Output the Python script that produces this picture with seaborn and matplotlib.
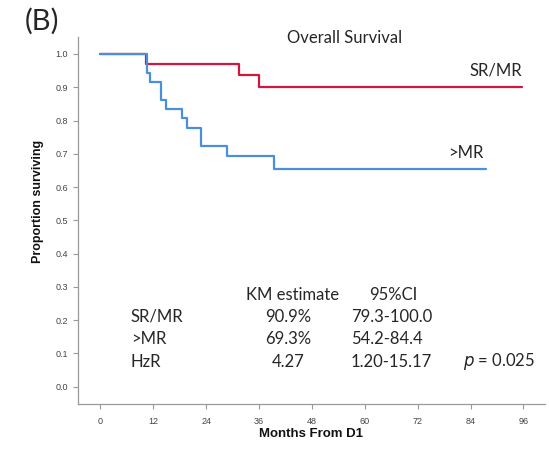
import pandas as pd
import seaborn as sns
import matplotlib.pyplot as plt

# Kaplan-Meier step points
sr_months = [0, 10.3, 31.5, 36.1, 95.6]
sr_surv = [1.0, 0.970, 0.937, 0.900, 0.900]
mr_months = [0, 10.5, 11.3, 13.7, 14.9, 18.5, 19.6, 22.8, 28.7, 39.4, 87.6]
mr_surv = [1.0, 0.942, 0.917, 0.862, 0.834, 0.807, 0.777, 0.723, 0.693, 0.653, 0.653]

groups = ['SR/MR', '>MR']
colors = ['#D2163F', '#4A8FDF']
x_ticks = [0, 12, 24, 36, 48, 60, 72, 84, 96]
y_ticks = [0.0, 0.1, 0.2, 0.3, 0.4, 0.5, 0.6, 0.7, 0.8, 0.9, 1.0]

table_header = ['KM estimate', '95%CI']
table_rows = ['SR/MR', '>MR', 'HzR']
km_est = ['90.9%', '69.3%', '4.27']
ci = ['79.3-100.0', '54.2-84.4', '1.20-15.17']
p_text = '$p$ = 0.025'

df = pd.concat([
    pd.DataFrame({'Months': sr_months, 'Surv': sr_surv, 'Group': groups[0]}),
    pd.DataFrame({'Months': mr_months, 'Surv': mr_surv, 'Group': groups[1]}),
])

sns.set_style('white')
plt.rcParams['font.family'] = ['Liberation Sans', 'DejaVu Sans']

W, H = 549, 461
fig = plt.figure(figsize=(W / 100, H / 100), dpi=100)
ax = fig.add_axes([78 / W, 1 - 404 / H, (545 - 78) / W, (404 - 37) / H])

sns.lineplot(data=df, x='Months', y='Surv', hue='Group', palette=colors,
             estimator=None, sort=False, drawstyle='steps-post',
             linewidth=1.6, legend=False, ax=ax)

ax.set_xlim(-5.06, 100.9)
ax.set_ylim(-0.052, 1.051)
ax.set_xticks(x_ticks)
ax.set_yticks(y_ticks)
ax.set_yticklabels([f'{v:.1f}' for v in y_ticks])
ax.set_xlabel('')
ax.set_ylabel('')
ax.tick_params(axis='both', labelsize=6.5, labelcolor='#444444', color='#999999',
               length=3.5, width=0.8, direction='out', bottom=True, left=True)
ax.tick_params(axis='x', pad=6)
for side in ['top', 'right']:
    ax.spines[side].set_visible(False)
for side in ['left', 'bottom']:
    ax.spines[side].set_color('#999999')
    ax.spines[side].set_linewidth(0.9)

fig.text(38 / W, 1 - 201 / H, 'Proportion surviving', rotation=90, fontsize=9,
         fontweight='bold', ha='center', va='center', color='#111111')
fig.text(311 / W, 1 - 434 / H, 'Months From D1', fontsize=9.5, fontweight='bold',
         ha='center', va='center', color='#111111')

ann = ['Lato', 'DejaVu Sans']
fs = 12
fig.text(42 / W, 1 - 21 / H, '(B)', fontsize=21, family=ann, ha='center', va='center')
fig.text(345 / W, 1 - 38 / H, 'Overall Survival', fontsize=fs, family=ann,
         ha='center', va='center')
fig.text(522 / W, 1 - 71 / H, 'SR/MR', fontsize=fs, family=ann, ha='right', va='center')
fig.text(483 / W, 1 - 153 / H, '>MR', fontsize=fs, family=ann, ha='right', va='center')

fig.text(293 / W, 1 - 295 / H, table_header[0], fontsize=fs, family=ann, ha='center', va='center')
fig.text(393.5 / W, 1 - 295 / H, table_header[1], fontsize=fs, family=ann, ha='center', va='center')
row_y = [316.7, 339.3, 361.7]
for lab, est, c, y in zip(table_rows, km_est, ci, row_y):
    fig.text(130.7 / W, 1 - y / H, lab, fontsize=fs, family=ann, ha='left', va='center')
    fig.text(288 / W, 1 - y / H, est, fontsize=fs, family=ann, ha='center', va='center')
    fig.text(351 / W, 1 - y / H, c, fontsize=fs, family=ann, ha='left', va='center')
fig.text(463 / W, 1 - row_y[2] / H, p_text, fontsize=fs, family=ann, ha='left', va='center')

fig.savefig('out.png', dpi=100)
